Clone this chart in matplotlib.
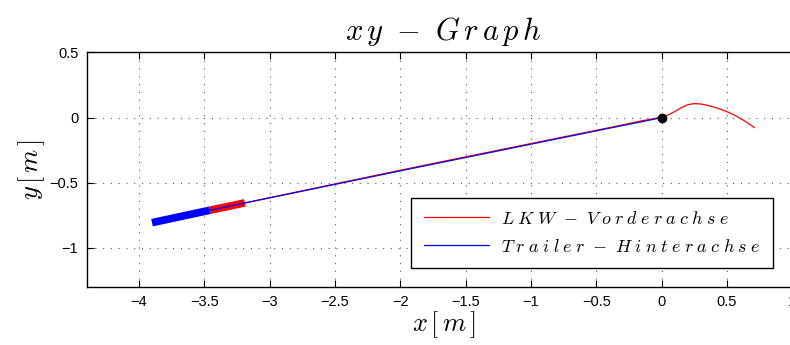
import matplotlib
matplotlib.use("Agg")
import matplotlib.pyplot as plt

plt.rcParams['font.family'] = ['Liberation Sans', 'DejaVu Sans']
plt.rcParams['mathtext.fontset'] = 'cm'

# Front axle of the truck (path from the start pose to the end)
lkw_x = [-3.19, -2.0, -1.0, -0.4, -0.15, 0.0, 0.05, 0.1, 0.15, 0.2, 0.25, 0.3,
         0.35, 0.4, 0.45, 0.5, 0.55, 0.6, 0.65, 0.71]
lkw_y = [-0.656, -0.405, -0.200, -0.078, -0.025, 0.002, 0.020, 0.045, 0.075,
         0.098, 0.107, 0.104, 0.094, 0.080, 0.064, 0.045, 0.022, -0.005, -0.036, -0.077]

# Rear axle of the trailer
trailer_x = [-3.455, -2.0, -1.0, -0.4, -0.15, -0.02]
trailer_y = [-0.712, -0.410, -0.205, -0.082, -0.032, -0.005]

# Start pose: trailer body and truck body drawn as thick segments
trailer_body_x = [-3.90, -3.455]
trailer_body_y = [-0.808, -0.712]
truck_body_x = [-3.455, -3.19]
truck_body_y = [-0.712, -0.656]

# Goal point
goal_x = [0.0]
goal_y = [0.0]

xticks = [-4, -3.5, -3, -2.5, -2, -1.5, -1, -0.5, 0, 0.5, 1]
xticklabels = ['\u22124', '\u22123.5', '\u22123', '\u22122.5', '\u22122', '\u22121.5',
               '\u22121', '\u22120.5', '0', '0.5', '1']
yticks = [-1, -0.5, 0, 0.5]
yticklabels = ['\u22121', '\u22120.5', '0', '0.5']

title_parts = ('xy', 'Graph')
legend_labels = [('LKW', 'Vorderachse'), ('Trailer', 'Hinterachse')]


def spaced(a, b, gap=r'\,'):
    """Italic math text with letter spacing and a spaced minus between two words."""
    return '$' + gap.join(a) + r'\;\;{-}\;\;' + gap.join(b) + '$'


fig = plt.figure(figsize=(7.9, 3.45), dpi=100)
ax = fig.add_axes([0.1097, 0.169, 0.903, 0.679])

ax.plot(trailer_body_x, trailer_body_y, color='#0000ff', lw=5.5, solid_capstyle='butt')
ax.plot(truck_body_x, truck_body_y, color='#ff0000', lw=5.5, solid_capstyle='butt')
l1, = ax.plot(lkw_x, lkw_y, color='#ff0000', lw=0.9)
l2, = ax.plot(trailer_x, trailer_y, color='#0000ff', lw=0.9)
ax.plot(goal_x, goal_y, 'o', color='black', ms=6)

ax.set_xlim(-4.4, 1.06)
ax.set_ylim(-1.3, 0.5)
ax.set_xticks(xticks)
ax.set_xticklabels(xticklabels)
ax.set_yticks(yticks)
ax.set_yticklabels(yticklabels)
ax.tick_params(direction='in', top=True, right=True, labelsize=10.5, length=5,
               width=0.8, pad=6)
ax.grid(True, linestyle=(0, (1, 6)), color='0.35', linewidth=0.8)
for s in ax.spines.values():
    s.set_linewidth(1.0)

ax.set_title(spaced(*title_parts, gap=r'\,'), fontsize=22, pad=9)
ax.set_xlabel(r'$x\,[\,m\,]$', fontsize=19, labelpad=0)
ax.set_ylabel(r'$y\,[\,m\,]$', fontsize=19, labelpad=2)

leg = ax.legend([l1, l2], [spaced(*p, gap=r'\;') for p in legend_labels],
                loc='upper left', bbox_to_anchor=(0.4547, 0.378), borderaxespad=0,
                fontsize=13, handlelength=3.6, fancybox=False, framealpha=1,
                edgecolor='black', borderpad=0.7, labelspacing=0.6, handletextpad=0.7)
leg.get_frame().set_linewidth(1.0)

fig.savefig('out.png', dpi=100)
